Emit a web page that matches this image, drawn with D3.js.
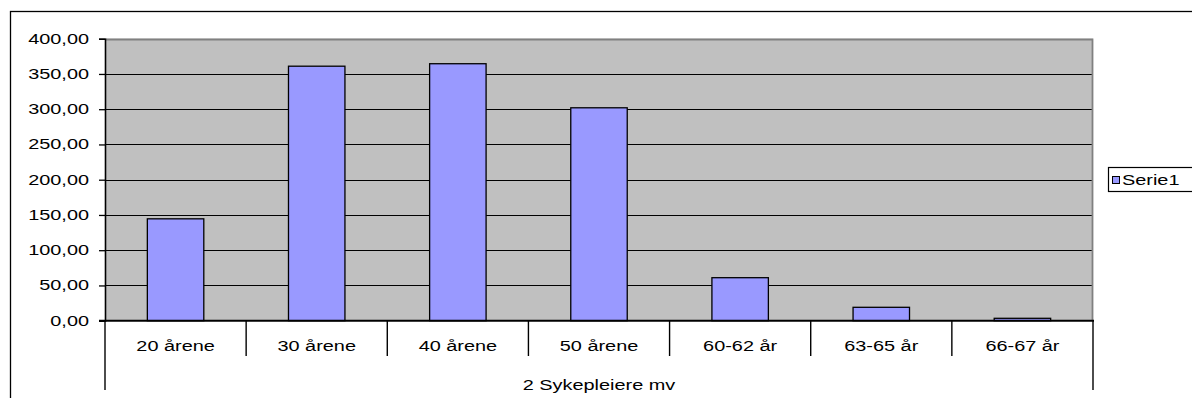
<!DOCTYPE html>
<html>
<head>
<meta charset="utf-8">
<script src="https://cdn.jsdelivr.net/npm/d3@7"></script>
<style>
  body { margin: 0; background: #fff; }
  text { font-family: Arial, "Liberation Sans", sans-serif; fill: #000; font-size: 14px; }
</style>
</head>
<body>
<div class="chart"></div>
<script>
const categories = ["20 årene", "30 årene", "40 årene", "50 årene", "60-62 år", "63-65 år", "66-67 år"];
const values = [144.5, 361, 364.5, 302, 61, 19, 3.4];
const yTicks = [0, 50, 100, 150, 200, 250, 300, 350, 400];
const groupLabel = "2 Sykepleiere mv";
const seriesName = "Serie1";

const W = 1192, H = 398;
const plot = { left: 105, right: 1093, top: 38.7, bottom: 320.7 };
// the original picture is stretched sideways, so text is too
const stretch = 1.42;

const svg = d3.select(".chart")
    .append("svg")
    .attr("width", W)
    .attr("height", H);

function label(g, tx, ty, str, anchor) {
    return g.append("text")
        .attr("transform", "translate(" + tx + "," + ty + ") scale(" + stretch + ",1)")
        .attr("text-anchor", anchor || "middle")
        .text(str);
}

// outer chart frame (runs past the window on right and bottom)
svg.append("rect")
    .attr("x", 10.5)
    .attr("y", 11.5)
    .attr("width", 1300)
    .attr("height", 500)
    .attr("fill", "#fff")
    .attr("stroke", "#000")
    .attr("stroke-width", 1.3);

const x = d3.scaleBand()
    .domain(categories)
    .range([plot.left, plot.right])
    .paddingInner(0)
    .paddingOuter(0);

const y = d3.scaleLinear()
    .domain([0, 400])
    .range([plot.bottom, plot.top]);

// plot area
svg.append("rect")
    .attr("x", plot.left)
    .attr("y", plot.top)
    .attr("width", plot.right - plot.left)
    .attr("height", plot.bottom - plot.top)
    .attr("fill", "#c0c0c0");

// gridlines
svg.append("g")
    .selectAll("line")
    .data(yTicks.filter(d => d > 0 && d < 400))
    .enter()
    .append("line")
    .attr("x1", plot.left)
    .attr("x2", plot.right)
    .attr("y1", d => Math.round(y(d)) + 0.5)
    .attr("y2", d => Math.round(y(d)) + 0.5)
    .attr("stroke", "#000")
    .attr("stroke-width", 1.2);

// plot border top/right (grey)
svg.append("path")
    .attr("d", "M" + plot.left + "," + (Math.round(plot.top) + 0.5) + "H" + (plot.right - 0.5) + "V" + plot.bottom)
    .attr("fill", "none")
    .attr("stroke", "#808080")
    .attr("stroke-width", 1.8);

// bars
const barW = x.bandwidth() * 0.4;
svg.append("g")
    .selectAll("rect")
    .data(values)
    .enter()
    .append("rect")
    .attr("x", (d, i) => x(categories[i]) + (x.bandwidth() - barW) / 2)
    .attr("y", d => y(d))
    .attr("width", barW)
    .attr("height", d => plot.bottom - y(d))
    .attr("fill", "#9999ff")
    .attr("stroke", "#000")
    .attr("stroke-width", 1.3);

// y axis
const yAxis = d3.axisLeft(y)
    .tickValues(yTicks)
    .tickSize(6)
    .tickFormat("");

const yg = svg.append("g")
    .attr("transform", "translate(" + plot.left + ",0)")
    .call(yAxis);
yg.select(".domain").attr("stroke", "#000").attr("stroke-width", 1.6);
yg.selectAll(".tick line").attr("stroke", "#000").attr("stroke-width", 1.3);

const yLabels = svg.append("g");
yTicks.forEach(t => {
    label(yLabels, plot.left - 16, y(t) + 5, d3.format(".2f")(t).replace(".", ","), "end");
});

// x axis baseline
svg.append("line")
    .attr("x1", plot.left - 6)
    .attr("x2", plot.right + 1)
    .attr("y1", plot.bottom)
    .attr("y2", plot.bottom)
    .attr("stroke", "#000")
    .attr("stroke-width", 2);

// category separators
const bounds = categories.map(c => x(c)).concat([plot.right]);
svg.append("g")
    .selectAll("line")
    .data(bounds)
    .enter()
    .append("line")
    .attr("x1", d => d)
    .attr("x2", d => d)
    .attr("y1", plot.bottom)
    .attr("y2", (d, i) => (i === 0 || i === bounds.length - 1) ? 390 : 356)
    .attr("stroke", "#000")
    .attr("stroke-width", 1.4);

// category labels
const xLabels = svg.append("g");
categories.forEach(c => label(xLabels, x(c) + x.bandwidth() / 2, 350.5, c));

// group label
label(svg, (plot.left + plot.right) / 2, 390, groupLabel);

// legend
const legend = svg.append("g").attr("transform", "translate(1108,167)");
legend.append("rect")
    .attr("x", 0.5)
    .attr("y", 0.5)
    .attr("width", 120)
    .attr("height", 24)
    .attr("fill", "#fff")
    .attr("stroke", "#000")
    .attr("stroke-width", 1.2);
legend.append("rect")
    .attr("x", 4.5)
    .attr("y", 9.5)
    .attr("width", 7)
    .attr("height", 7)
    .attr("fill", "#9999ff")
    .attr("stroke", "#000")
    .attr("stroke-width", 1);
label(legend, 14, 18, seriesName, "start");
</script>
</body>
</html>
